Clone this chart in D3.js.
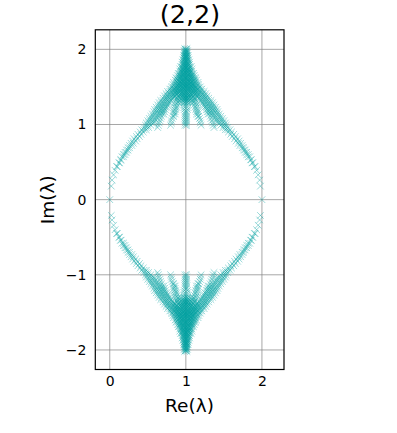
<!DOCTYPE html>
<html><head><meta charset="utf-8">
<script src="https://cdn.jsdelivr.net/npm/d3@7/dist/d3.min.js"></script>
<style>html,body{margin:0;padding:0;background:#fff}svg{display:block}text{font-family:"DejaVu Sans",sans-serif;fill:#000}</style>
</head><body><svg id="c" width="397" height="433"></svg>
<script>
const title = "(2,2)";
const xLabel = "Re(λ)";
const yLabel = "Im(λ)";
const xTicks = [0, 1, 2];
const yTicks = [-2, -1, 0, 1, 2];
const isolated = [[0, 0], [2, 0]];
// Each row: imaginary part, then distances from Re = 1 (eigenvalues sit on both sides of it).
const upperRows = [
[.18,[.98]],[.26,[.97]],[.33,[.95]],[.39,[.93]],[.44,[.91,.9]],[.49,[.88,.87]],[.53,[.86,.85]],[.57,[.84,.82]],[.6,[.82,.8]],[.63,[.8,.78]],[.66,[.78,.76]],
[.69,[.76,.74]],[.72,[.74,.71]],[.75,[.72,.69]],[.78,[.7,.66]],[.81,[.68,.64]],[.84,[.65,.61]],[.87,[.63,.59]],[.9,[.6,.56]],
[.93,[.58,.55,.52]],[.96,[.55,.52,.49,.37]],[.99,[.53,.5,.46,.36,.2,.01]],
[1.02,[.52,.49,.45,.42,.35,.19,.01]],[1.05,[.5,.47,.43,.4,.34,.19,.01]],[1.08,[.48,.45,.41,.38,.33,.18,.01]],
[1.11,[.46,.43,.39,.36,.32,.17,.16,.01]],[1.14,[.44,.41,.37,.34,.31,.29,.16,.14,.01]],[1.17,[.42,.39,.36,.33,.3,.28,.16,.14,.01]],
[1.2,[.41,.38,.35,.32,.29,.27,.15,.13,.02]],[1.23,[.39,.36,.33,.3,.27,.25,.14,.12,.02]],[1.26,[.37,.34,.31,.28,.25,.23,.14,.11,.02]],
[1.29,[.35,.32,.29,.26,.23,.21,.13,.1,.02]],[1.32,[.33,.3,.27,.24,.21,.19,.12,.09,.02]],[1.35,[.3,.27,.25,.22,.19,.17,.11,.08,.03,.01]],
[1.38,[.28,.25,.23,.2,.17,.14,.1,.07,.04,.01]],[1.41,[.26,.23,.21,.18,.15,.12,.09,.06,.03,.01]],[1.44,[.24,.21,.19,.16,.13,.1,.07,.04,.01]],
[1.47,[.21,.19,.16,.14,.11,.08,.05,.02]],[1.5,[.19,.17,.14,.12,.09,.07,.04,.01]],[1.53,[.17,.15,.12,.1,.08,.05,.03,.01]],
[1.56,[.16,.13,.11,.08,.06,.03,.01]],[1.59,[.14,.12,.1,.07,.05,.02]],[1.62,[.13,.11,.08,.06,.03,.01]],[1.65,[.11,.09,.07,.04,.02]],
[1.68,[.1,.08,.05,.03,.01]],[1.71,[.08,.06,.04,.02]],[1.74,[.08,.05,.03,.01]],[1.77,[.07,.05,.02]],[1.8,[.05,.03,.01]],[1.83,[.05,.02]],
[1.86,[.04,.02]],[1.89,[.03,.01]],[1.92,[.03,.01]],[1.95,[.02,.005]],[1.98,[.02,.005]],[2.01,[.015]]
];
const upperCoreRows = [
[1.3,[.1,.06,.03,.01]],[1.34,[.12,.06,.03,.01]],[1.37,[.15,.1,.06,.03,.01]],[1.4,[.16,.12,.08,.05,.02]],[1.43,[.14,.11,.08,.05,.02]],[1.46,[.15,.12,.09,.06,.03,.01]],
[1.49,[.13,.1,.08,.05,.03,.01]],[1.52,[.11,.08,.06,.03,.01]],[1.55,[.1,.07,.05,.02]],[1.58,[.09,.06,.04,.02]],[1.61,[.08,.05,.03,.01]],
[1.64,[.07,.05,.02]],[1.67,[.06,.04,.02]],[1.7,[.05,.03,.01]],[1.73,[.04,.02]],[1.76,[.04,.02,.005]],[1.79,[.03,.01]],[1.82,[.03,.01]],[1.85,[.02,.005]],[1.88,[.02,.005]],[1.91,[.015,.005]],[1.94,[.01]],[1.97,[.01]],[2,[.005]]
];
const lowerRows = [
[-.21,[.98]],[-.27,[.97]],[-.34,[.95]],[-.4,[.93]],[-.45,[.91,.9]],[-.5,[.88,.87]],[-.54,[.86,.85]],[-.58,[.84,.82]],[-.61,[.82,.8]],[-.64,[.8,.78]],[-.67,[.78,.76]],
[-.7,[.76,.74]],[-.73,[.74,.71]],[-.76,[.72,.69]],[-.79,[.7,.66]],[-.82,[.68,.64]],[-.85,[.65,.61]],[-.88,[.63,.59]],[-.91,[.6,.56]],
[-.94,[.58,.55,.52]],[-.97,[.55,.52,.49,.37]],[-1.0,[.53,.5,.46,.36,.2,.01]],
[-1.03,[.52,.49,.45,.42,.35,.19,.01]],[-1.06,[.5,.47,.43,.4,.34,.19,.01]],[-1.09,[.48,.45,.41,.38,.33,.18,.01]],
[-1.12,[.46,.43,.39,.36,.32,.17,.16,.01]],[-1.15,[.44,.41,.37,.34,.31,.29,.16,.14,.01]],[-1.18,[.42,.39,.36,.33,.3,.28,.16,.14,.01]],
[-1.21,[.41,.38,.35,.32,.29,.27,.15,.13,.02]],[-1.24,[.39,.36,.33,.3,.27,.25,.14,.12,.02]],[-1.27,[.37,.34,.31,.28,.25,.23,.14,.11,.02]],
[-1.3,[.35,.32,.29,.26,.23,.21,.13,.1,.02]],[-1.33,[.33,.3,.27,.24,.21,.19,.12,.09,.02]],[-1.36,[.3,.27,.25,.22,.19,.17,.11,.08,.03,.01]],
[-1.39,[.28,.25,.23,.2,.17,.14,.1,.07,.04,.01]],[-1.42,[.26,.23,.21,.18,.15,.12,.09,.06,.03,.01]],[-1.45,[.24,.21,.19,.16,.13,.1,.07,.04,.01]],
[-1.48,[.21,.19,.16,.14,.11,.08,.05,.02]],[-1.51,[.19,.17,.14,.12,.09,.07,.04,.01]],[-1.54,[.17,.15,.12,.1,.08,.05,.03,.01]],
[-1.57,[.16,.13,.11,.08,.06,.03,.01]],[-1.6,[.14,.12,.1,.07,.05,.02]],[-1.63,[.13,.11,.08,.06,.03,.01]],[-1.66,[.11,.09,.07,.04,.02]],
[-1.69,[.1,.08,.05,.03,.01]],[-1.72,[.08,.06,.04,.02]],[-1.75,[.08,.05,.03,.01]],[-1.78,[.07,.05,.02]],[-1.81,[.05,.03,.01]],[-1.84,[.05,.02]],
[-1.87,[.04,.02]],[-1.9,[.03,.01]],[-1.93,[.03,.01]],[-1.96,[.02,.005]],[-1.99,[.02,.005]],[-2.02,[.015]]
];
const lowerCoreRows = [
[-1.31,[.1,.06,.03,.01]],[-1.35,[.12,.06,.03,.01]],[-1.38,[.15,.1,.06,.03,.01]],[-1.41,[.16,.12,.08,.05,.02]],[-1.44,[.14,.11,.08,.05,.02]],[-1.47,[.15,.12,.09,.06,.03,.01]],
[-1.5,[.13,.1,.08,.05,.03,.01]],[-1.53,[.11,.08,.06,.03,.01]],[-1.56,[.1,.07,.05,.02]],[-1.59,[.09,.06,.04,.02]],[-1.62,[.08,.05,.03,.01]],
[-1.65,[.07,.05,.02]],[-1.68,[.06,.04,.02]],[-1.71,[.05,.03,.01]],[-1.74,[.04,.02]],[-1.77,[.04,.02,.005]],[-1.8,[.03,.01]],[-1.83,[.03,.01]],[-1.86,[.02,.005]],[-1.89,[.02,.005]],[-1.92,[.015,.005]],[-1.95,[.01]],[-1.98,[.01]],[-2.01,[.005]]
];

const rowsToPoints = rows => rows.flatMap(([im, ds]) => ds.flatMap(d => [[1 - d, im], [1 + d, im]]));
const points = [...isolated, ...rowsToPoints(upperRows), ...rowsToPoints(upperCoreRows), ...rowsToPoints(lowerRows), ...rowsToPoints(lowerCoreRows)];

const box = {l: 95.3, r: 284, t: 29.8, b: 369.5};
const x = d3.scaleLinear().domain([-0.19, 2.29]).range([box.l, box.r]);
const y = d3.scaleLinear().domain([-2.26, 2.26]).range([box.b, box.t]);
const svg = d3.select("#c");

const gx = svg.append("g").attr("transform", `translate(0,${box.b})`)
  .call(d3.axisBottom(x).tickValues(xTicks).tickFormat(d3.format("d")).tickSize(0).tickPadding(7));
const gy = svg.append("g").attr("transform", `translate(${box.l},0)`)
  .call(d3.axisLeft(y).tickValues(yTicks).tickFormat(d => String(d).replace("-", "\u2212")).tickSize(0).tickPadding(9));
[gx, gy].forEach(g => { g.select(".domain").remove(); g.selectAll("text").style("font-size", "14px"); });

const grid = svg.append("g").attr("stroke", "#808080").attr("stroke-width", 1).attr("stroke-opacity", 0.7);
grid.selectAll(".v").data(xTicks).join("line").attr("x1", x).attr("x2", x).attr("y1", box.t).attr("y2", box.b);
grid.selectAll(".h").data(yTicks).join("line").attr("y1", y).attr("y2", y).attr("x1", box.l).attr("x2", box.r);

const r = 3.3;
svg.append("g").selectAll("path").data(points).join("path")
  .attr("d", d => { const a = x(d[0]), b = y(d[1]); return `M${a-r},${b-r}L${a+r},${b+r}M${a-r},${b+r}L${a+r},${b-r}`; })
  .attr("fill", "none").attr("stroke", "#00a0a0").attr("stroke-width", 1).attr("stroke-opacity", 0.4);

svg.append("rect").attr("x", box.l).attr("y", box.t).attr("width", box.r - box.l).attr("height", box.b - box.t)
  .attr("fill", "none").attr("stroke", "#000").attr("stroke-width", 1.2);

svg.append("text").attr("x", 190).attr("y", 22.7).attr("text-anchor", "middle").style("font-size", "25.5px").text(title);
svg.append("text").attr("x", 189.5).attr("y", 411.5).attr("text-anchor", "middle").style("font-size", "18.5px").text(xLabel);
svg.append("text").attr("transform", `translate(54,199.7) rotate(-90)`).attr("text-anchor", "middle").style("font-size", "18.5px").text(yLabel);
</script></body></html>
